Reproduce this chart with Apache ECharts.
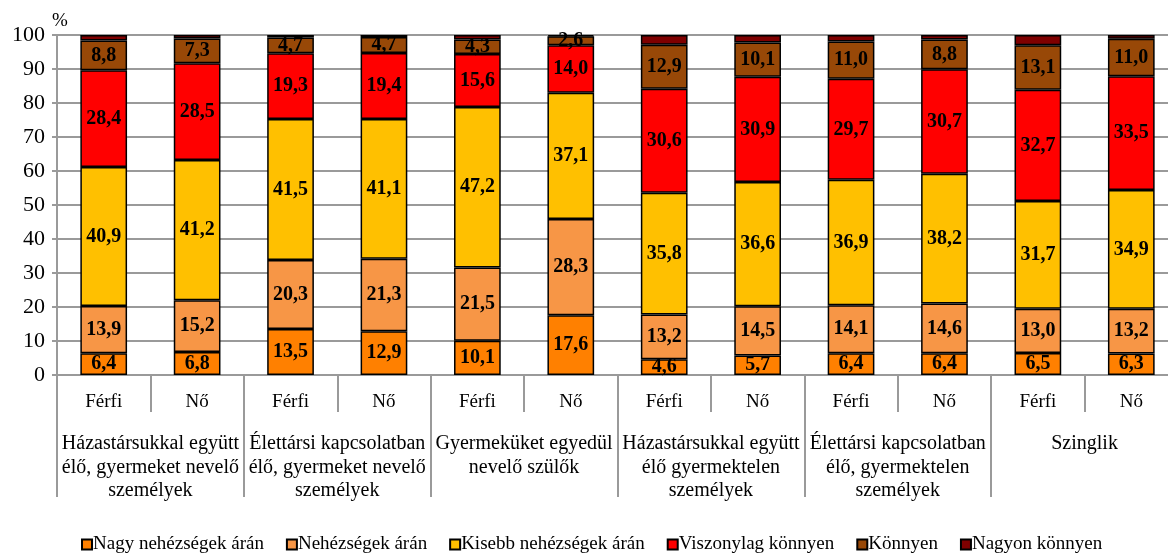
<!DOCTYPE html>
<html>
<head>
<meta charset="utf-8">
<script src="https://cdn.jsdelivr.net/npm/echarts@6/dist/echarts.min.js"></script>
<style>
  html, body { margin: 0; padding: 0; background: #fff; overflow: hidden; }
  /* az eredeti kép jobb széle levágja a rajzterületet */
  #chart { width: 1178px; height: 553px; }
</style>
</head>
<body>
<div id="chart"></div>
<script>
// alsó szint: nemek, felső szint: háztartástípusok
const categories = ['Férfi', 'Nő', 'Férfi', 'Nő', 'Férfi', 'Nő', 'Férfi', 'Nő', 'Férfi', 'Nő', 'Férfi', 'Nő'];
const groups = [
  'Házastársukkal együtt\nélő, gyermeket nevelő\nszemélyek',
  'Élettársi kapcsolatban\nélő, gyermeket nevelő\nszemélyek',
  'Gyermeküket egyedül\nnevelő szülők',
  'Házastársukkal együtt\nélő gyermektelen\nszemélyek',
  'Élettársi kapcsolatban\nélő, gyermektelen\nszemélyek',
  'Szinglik'
];
const yTicks = [0, 10, 20, 30, 40, 50, 60, 70, 80, 90, 100];

const seriesNames = ['Nagy nehézségek árán', 'Nehézségek árán', 'Kisebb nehézségek árán', 'Viszonylag könnyen', 'Könnyen', 'Nagyon könnyen'];
const nagyNehez = [6.4, 6.8, 13.5, 12.9, 10.1, 17.6, 4.6, 5.7, 6.4, 6.4, 6.5, 6.3];
const nehez = [13.9, 15.2, 20.3, 21.3, 21.5, 28.3, 13.2, 14.5, 14.1, 14.6, 13.0, 13.2];
const kisebbNehez = [40.9, 41.2, 41.5, 41.1, 47.2, 37.1, 35.8, 36.6, 36.9, 38.2, 31.7, 34.9];
const viszonylagKonnyen = [28.4, 28.5, 19.3, 19.4, 15.6, 14.0, 30.6, 30.9, 29.7, 30.7, 32.7, 33.5];
const konnyen = [8.8, 7.3, 4.7, 4.7, 4.3, 2.6, 12.9, 10.1, 11.0, 8.8, 13.1, 11.0];
const nagyonKonnyen = [1.6, 1.0, 0.7, 0.6, 1.3, 0.4, 2.9, 2.2, 1.9, 1.3, 3.0, 1.1];

const values = [nagyNehez, nehez, kisebbNehez, viszonylagKonnyen, konnyen, nagyonKonnyen];
const colors = ['#FF8000', '#F79646', '#FFC000', '#FF0000', '#984807', '#7F0000'];

const font = 'Liberation Serif';
const gray = '#9a9a9a';

const chart = echarts.init(document.getElementById('chart'));

chart.setOption({
  animation: false,
  color: colors,
  textStyle: { fontFamily: font, color: '#000' },
  grid: { left: 57, right: 0, top: 35, height: 340, containLabel: false },
  legend: {
    top: 530,
    left: 76,
    icon: 'rect',
    itemWidth: 10,
    itemHeight: 10,
    itemGap: 22,
    textStyle: { fontFamily: font, fontSize: 19, color: '#000', padding: [0, 0, 0, -4] },
    data: seriesNames
  },
  xAxis: [
    {
      type: 'category',
      data: categories,
      axisLine: { lineStyle: { color: gray, width: 2 } },
      axisTick: { show: true, length: 37, lineStyle: { color: gray, width: 2 } },
      axisLabel: { fontFamily: font, fontSize: 19, color: '#000', margin: 18 }
    },
    {
      type: 'category',
      position: 'bottom',
      data: groups,
      axisLine: { show: false },
      axisTick: { show: true, length: 122, lineStyle: { color: gray, width: 2 } },
      axisLabel: { fontFamily: font, fontSize: 20, color: '#000', margin: 57, lineHeight: 23.5, interval: 0 }
    }
  ],
  yAxis: {
    type: 'value',
    min: yTicks[0],
    max: yTicks[yTicks.length - 1],
    interval: 10,
    name: '%',
    nameLocation: 'end',
    nameGap: 4,
    nameTextStyle: { fontFamily: font, fontSize: 19, color: '#000', align: 'left', padding: [0, 0, 0, -5] },
    axisLine: { show: true, lineStyle: { color: gray, width: 2 } },
    axisTick: { show: true, length: 5, lineStyle: { color: gray, width: 2 } },
    axisLabel: { fontFamily: font, fontSize: 22, color: '#000', margin: 12 },
    splitLine: { lineStyle: { color: gray, width: 2 } }
  },
  series: seriesNames.map((name, i) => ({
    name: name,
    type: 'bar',
    stack: 'total',
    xAxisIndex: 0,
    barWidth: '50%',
    data: values[i],
    itemStyle: { color: colors[i], borderColor: '#000', borderWidth: 1.5 },
    label: {
      show: i < 5,
      position: 'inside',
      fontFamily: font,
      fontSize: 20,
      fontWeight: 'bold',
      color: '#000',
      formatter: p => p.value.toFixed(1).replace('.', ',')
    }
  }))
});
</script>
</body>
</html>
